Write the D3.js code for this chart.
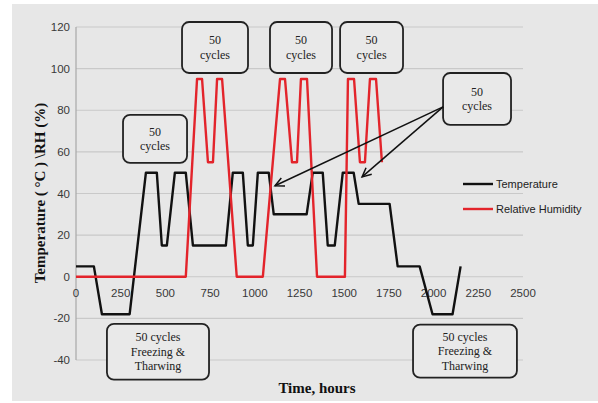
<!DOCTYPE html>
<html><head><meta charset="utf-8">
<script src="https://cdn.jsdelivr.net/npm/d3@7"></script>
<style>html,body{margin:0;padding:0;background:#fff;}svg{display:block;}</style>
</head><body>
<script>
// ---- data ----
const tempHours  = [0,100,145,300,391,452,480,508,553,614,654,838,877,933,961,989,1017,1078,1106,1290,1324,1380,1408,1447,1492,1553,1581,1754,1799,1922,1994,2106,2151];
const tempValues = [5,5,-18,-18,50,50,15,15,50,50,15,15,50,50,15,15,50,50,30,30,50,50,15,15,50,50,35,35,5,5,-18,-18,5];
const rhHours  = [0,614,677,705,738,766,789,817,899,1045,1141,1169,1208,1236,1258,1292,1348,1504,1521,1555,1588,1616,1644,1678,1711];
const rhValues = [0,0,95,95,55,55,95,95,0,0,95,95,55,55,95,95,0,0,95,95,55,55,95,95,55];
const xTicks = [0,250,500,750,1000,1250,1500,1750,2000,2250,2500];
const yTicks = [-40,-20,0,20,40,60,80,100,120];
const seriesNames = ["Temperature","Relative Humidity"];
const boxLabels = [
  ["50","cycles"],["50","cycles"],["50","cycles"],["50","cycles"],["50","cycles"],
  ["50 cycles","Freezing &","Tharwing"],["50 cycles","Freezing &","Tharwing"]
];
// box extents in data units [h0,h1,v0,v1]
const boxExtents = [
  [593,962,122.4,97.9],[1085,1432,122.4,97.9],[1477,1829,122.4,97.9],
  [2053,2433,97.9,73],[263,621,77.8,54.7],
  [173,744,-22.6,-49.4],[1885,2466,-23,-48.5]
];
const arrowStart = [2053,81.6];
const arrowEnds = [[1113,43.7],[1600,48]];

// ---- chart ----
const W=598,H=403;
const svg=d3.select("body").append("svg").attr("width",W).attr("height",H);
svg.append("rect").attr("x",12).attr("y",4).attr("width",W-12).attr("height",397).attr("fill","#e7e7e7");

const x=d3.scaleLinear().domain([0,2500]).range([76,523]);
const y=d3.scaleLinear().domain([-40,120]).range([360,27]);

// gridlines
svg.append("g").selectAll("line").data(yTicks).join("line")
  .attr("x1",x(0)).attr("x2",x(2500)).attr("y1",d=>y(d)).attr("y2",d=>y(d))
  .attr("stroke","#c9c9c9").attr("stroke-width",1.2);
svg.append("line").attr("x1",x(0)).attr("x2",x(0)).attr("y1",y(-40)).attr("y2",y(120))
  .attr("stroke","#a8a8a8").attr("stroke-width",1.2);

// y tick labels
svg.append("g").selectAll("text").data(yTicks).join("text")
  .attr("x",70).attr("y",d=>y(d)).attr("dy","0.35em").attr("text-anchor","end")
  .attr("font-family","Liberation Sans, Arial, sans-serif").attr("font-size",11.5).attr("fill","#383838")
  .text(d=>d);
// x tick labels
svg.append("g").selectAll("text").data(xTicks).join("text")
  .attr("x",d=>x(d)).attr("y",293).attr("dy","0.35em").attr("text-anchor","middle")
  .attr("font-family","Liberation Sans, Arial, sans-serif").attr("font-size",11.5).attr("fill","#383838")
  .text(d=>d);

// axis titles
svg.append("text").attr("x",317).attr("y",388).attr("dy","0.35em").attr("text-anchor","middle")
  .attr("font-family","Liberation Serif, Times New Roman, serif").attr("font-weight","bold").attr("font-size",15).attr("fill","#111")
  .text("Time, hours");
svg.append("text").attr("transform","translate(40,193) rotate(-90)").attr("dy","0.35em").attr("text-anchor","middle")
  .attr("font-family","Liberation Serif, Times New Roman, serif").attr("font-weight","bold").attr("font-size",15).attr("fill","#111")
  .text("Temperature ( °C ) \\RH (%)");

const line=d3.line().x(d=>x(d[0])).y(d=>y(d[1]));
const tempData=tempHours.map((h,i)=>[h,tempValues[i]]);
const rhData=rhHours.map((h,i)=>[h,rhValues[i]]);
svg.append("path").datum(tempData).attr("d",line).attr("fill","none").attr("stroke","#111").attr("stroke-width",2.4).attr("stroke-linejoin","round");
svg.append("path").datum(rhData).attr("d",line).attr("fill","none").attr("stroke","#e3242b").attr("stroke-width",2.4).attr("stroke-linejoin","round");

// legend
const legColors=["#111","#e3242b"];
const lg=svg.append("g");
seriesNames.forEach((n,i)=>{
  const yy=184+i*25;
  lg.append("line").attr("x1",463).attr("x2",493).attr("y1",yy).attr("y2",yy).attr("stroke",legColors[i]).attr("stroke-width",2.4);
  lg.append("text").attr("x",496).attr("y",yy).attr("dy","0.35em")
    .attr("font-family","Liberation Sans, Arial, sans-serif").attr("font-size",11).attr("fill","#222").text(n);
});

// annotation boxes
boxExtents.forEach((b,i)=>{
  const x0=x(b[0]),x1=x(b[1]),y0=y(b[2]),y1=y(b[3]);
  svg.append("rect").attr("x",x0).attr("y",y0).attr("width",x1-x0).attr("height",y1-y0)
    .attr("rx",7).attr("fill","#e9e9e9").attr("stroke","#222").attr("stroke-width",1.8);
  const lines=boxLabels[i];
  const lh=14.5, cy=(y0+y1)/2, start=cy-(lines.length-1)*lh/2;
  lines.forEach((t,j)=>{
    svg.append("text").attr("x",(x0+x1)/2).attr("y",start+j*lh).attr("dy","0.35em").attr("text-anchor","middle")
      .attr("font-family","Liberation Serif, Times New Roman, serif").attr("font-size",12).attr("fill","#222").text(t);
  });
});

// arrows
arrowEnds.forEach(e=>{
  const sx=x(arrowStart[0]),sy=y(arrowStart[1]),ex=x(e[0]),ey=y(e[1]);
  svg.append("line").attr("x1",sx).attr("y1",sy).attr("x2",ex).attr("y2",ey).attr("stroke","#111").attr("stroke-width",1.5);
  const a=Math.atan2(ey-sy,ex-sx), L=10, s=0.45;
  const p=[[ex-L*Math.cos(a-s),ey-L*Math.sin(a-s)],[ex,ey],[ex-L*Math.cos(a+s),ey-L*Math.sin(a+s)]];
  svg.append("path").attr("d",d3.line()(p)).attr("fill","none").attr("stroke","#111").attr("stroke-width",1.5);
});
</script>
</body></html>
